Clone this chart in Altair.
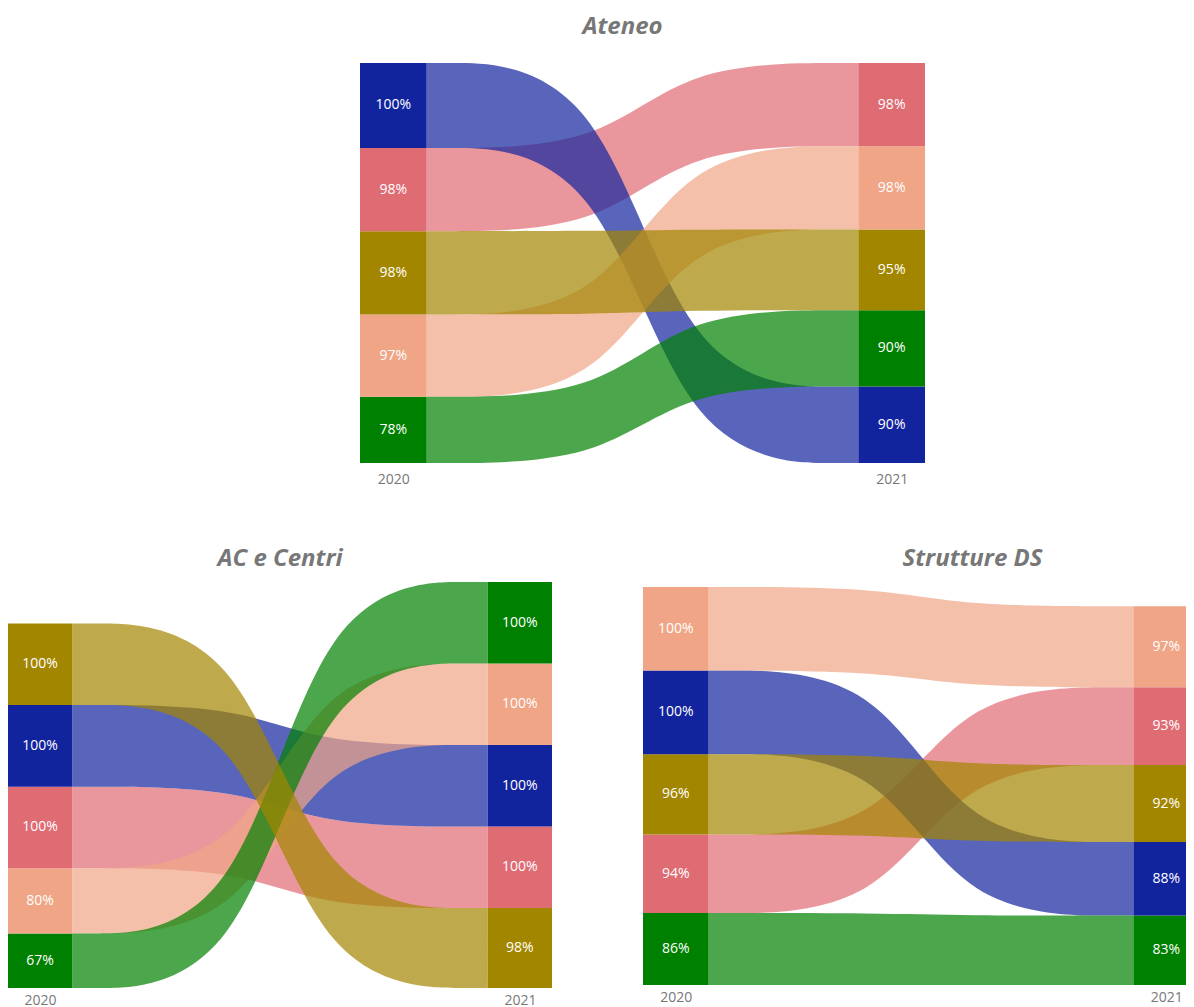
import altair as alt
import pandas as pd

# ---------------- data ----------------
years = ["2020", "2021"]
categories = ["Cat. 1", "Cat. 2", "Cat. 3", "Cat. 4", "Cat. 5"]
colors = ["#12239E", "#DF6B73", "#A38600", "#EFA586", "#008000"]
# stacking of the translucent ribbons, bottom first
ribbon_draw_order = ["Cat. 2", "Cat. 1", "Cat. 4", "Cat. 5", "Cat. 3"]

# each column listed from top to bottom
ateneo_2020_cats = ["Cat. 1", "Cat. 2", "Cat. 3", "Cat. 4", "Cat. 5"]
ateneo_2020_vals = [100, 98, 98, 97, 78]
ateneo_2021_cats = ["Cat. 2", "Cat. 4", "Cat. 3", "Cat. 5", "Cat. 1"]
ateneo_2021_vals = [98, 98, 95, 90, 90]

ac_2020_cats = ["Cat. 3", "Cat. 1", "Cat. 2", "Cat. 4", "Cat. 5"]
ac_2020_vals = [100, 100, 100, 80, 67]
ac_2021_cats = ["Cat. 5", "Cat. 4", "Cat. 1", "Cat. 2", "Cat. 3"]
ac_2021_vals = [100, 100, 100, 100, 98]

ds_2020_cats = ["Cat. 4", "Cat. 1", "Cat. 3", "Cat. 2", "Cat. 5"]
ds_2020_vals = [100, 100, 96, 94, 86]
ds_2021_cats = ["Cat. 4", "Cat. 2", "Cat. 3", "Cat. 1", "Cat. 5"]
ds_2021_vals = [97, 93, 92, 88, 83]

# ---------------- layout constants ----------------
BW = 0.118          # box width as fraction of panel width
BEND = 0.4          # where the ribbon control points sit
FONT = "Open Sans"
GRAY = "#777777"


def stack(cats, vals):
    out = {}
    cum = 0
    for c, v in zip(reversed(cats), reversed(vals)):
        out[c] = (cum, cum + v, v)
        cum += v
    return out


def build(c20, v20, c21, v21):
    s20 = stack(c20, v20)
    s21 = stack(c21, v21)
    boxes = []
    for s, x0 in ((s20, 0.0), (s21, 1.0 - BW)):
        for c, (lo, hi, v) in s.items():
            boxes.append(dict(cat=c, x0=x0, x1=x0 + BW, xc=x0 + BW / 2,
                              lo=lo, hi=hi, mid=(lo + hi) / 2, label=f"{v}%"))
    span = 1.0 - 2 * BW
    ribbons = []
    for c in categories:
        lo0, hi0, _ = s20[c]
        lo1, hi1, _ = s21[c]
        for x, lo, hi in ((BW, lo0, hi0),
                          (BW + BEND * span, lo0, hi0),
                          (BW + (1 - BEND) * span, lo1, hi1),
                          (1.0 - BW, lo1, hi1)):
            ribbons.append(dict(cat=c, x=x, lo=lo, hi=hi))
    ymax = max(sum(v20), sum(v21))
    return pd.DataFrame(boxes), pd.DataFrame(ribbons), ymax


def panel(title, data, width, height, ymax, dx, offset, label_pad, xmax=1.0):
    boxes, ribbons, _ = data
    xs = alt.Scale(domain=[0, xmax], nice=False, zero=False)
    ys = alt.Scale(domain=[0, ymax], nice=False, zero=True)
    xaxis = alt.Axis(values=[BW / 2, 1 - BW / 2],
                     labelExpr=f"datum.value < 0.5 ? '{years[0]}' : '{years[1]}'",
                     ticks=False, tickSize=0, domain=False, grid=False,
                     labelFontSize=14, labelColor=GRAY, labelFont=FONT,
                     labelPadding=label_pad, title=None)
    col = alt.Color("cat:N", scale=alt.Scale(domain=categories, range=colors), legend=None)
    layers = []
    for c in ribbon_draw_order:
        layers.append(
            alt.Chart(ribbons[ribbons["cat"] == c]).mark_area(
                interpolate="basis", opacity=0.7, clip=True).encode(
                x=alt.X("x:Q", scale=xs, axis=xaxis),
                y=alt.Y("lo:Q", scale=ys, axis=None),
                y2="hi:Q",
                color=col,
            )
        )
    box = alt.Chart(boxes).mark_rect(clip=True).encode(
        x=alt.X("x0:Q", scale=xs, axis=xaxis),
        x2="x1:Q",
        y=alt.Y("lo:Q", scale=ys, axis=None),
        y2="hi:Q",
        color=col,
    )
    txt = alt.Chart(boxes).mark_text(color="white", fontSize=14, font=FONT).encode(
        x=alt.X("xc:Q", scale=xs, axis=xaxis),
        y=alt.Y("mid:Q", scale=ys, axis=None),
        text="label:N",
    )
    layers += [box, txt]
    return alt.layer(*layers).properties(
        width=width, height=height,
        title=alt.TitleParams(title, fontSize=24, font=FONT, fontWeight="bold",
                              fontStyle="italic", color=GRAY, dx=dx, offset=offset),
    )


ateneo = build(ateneo_2020_cats, ateneo_2020_vals, ateneo_2021_cats, ateneo_2021_vals)
ac = build(ac_2020_cats, ac_2020_vals, ac_2021_cats, ac_2021_vals)
ds = build(ds_2020_cats, ds_2020_vals, ds_2021_cats, ds_2021_vals)

p_ateneo = panel("Ateneo", ateneo, 565, 400, ateneo[2], -20, 24, 9)
p_ac = panel("AC e Centri", ac, 544, 406, ac[2], 0, 11, 5)
# the right panel runs past the page edge: only its visible part is drawn
p_ds = panel("Strutture DS", ds, 543, 403, ds[2] * 403 / 398, 58, 11, 5, xmax=543 / 556)

spacer = alt.Chart(pd.DataFrame({"v": [0]})).mark_point(opacity=0).encode(
    x=alt.X("v:Q", axis=None), y=alt.Y("v:Q", axis=None)
).properties(width=352, height=1)

top = alt.hconcat(spacer, p_ateneo, spacing=0)
bottom = alt.hconcat(p_ac, p_ds, spacing=91)

chart = alt.vconcat(
    top, bottom, spacing=61, background="white",
    padding={"left": 0, "top": 7, "right": 0, "bottom": 0},
).configure_view(strokeWidth=0, stroke=None)

chart.save("out.html", embed_options={"renderer": "svg", "actions": False})
